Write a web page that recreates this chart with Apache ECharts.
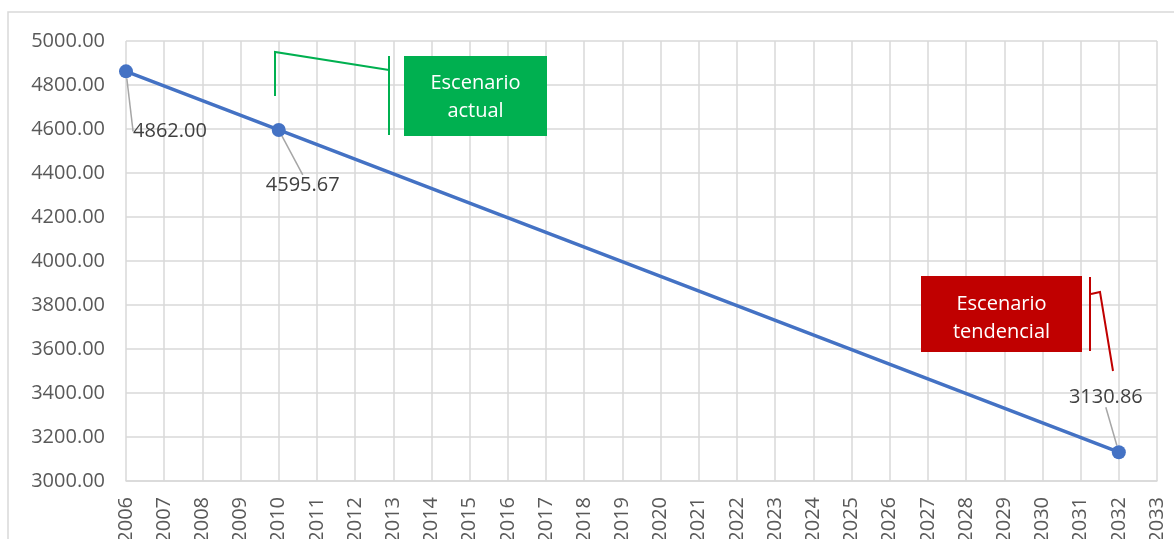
<!DOCTYPE html>
<html>
<head>
<meta charset="utf-8">
<script src="https://cdn.jsdelivr.net/npm/echarts@6/dist/echarts.min.js"></script>
<style>
  html, body { margin: 0; padding: 0; background: #fff; }
  #chart { width: 1174px; height: 539px; }
</style>
</head>
<body>
<div id="chart"></div>
<script>
// categories on the x axis
var years = [];
for (var y = 2006; y <= 2033; y++) years.push(String(y));

// the three known points
var pointYears = ["2006", "2010", "2032"];
var pointValues = [4862.0, 4595.67, 3130.86];
// where each value label sits relative to its point
var labelShift = [[44, 60], [24, 55], [-13, -55]];

var yTicks = { min: 3000, max: 5000, step: 200 };

var seriesData = years.map(function (yr) {
  var i = pointYears.indexOf(yr);
  if (i < 0) return null;
  return {
    value: pointValues[i],
    label: { show: true },
    labelLine: { show: true }
  };
});

var font = "'Open Sans', sans-serif";

var chart = echarts.init(document.getElementById("chart"));
chart.setOption({
  backgroundColor: "#fff",
  animation: false,
  grid: { left: 126, right: 17, top: 41, bottom: 58, containLabel: false, outerBoundsMode: "none" },
  xAxis: {
    type: "category",
    data: years,
    boundaryGap: false,
    axisLine: { lineStyle: { color: "#d9d9d9", width: 1.5 } },
    axisTick: { show: false },
    splitLine: { show: true, lineStyle: { color: "#d9d9d9", width: 1.5 } },
    axisLabel: {
      interval: 0,
      rotate: 90,
      margin: 16,
      color: "#595959",
      fontSize: 20,
      fontFamily: font
    }
  },
  yAxis: {
    type: "value",
    min: yTicks.min,
    max: yTicks.max,
    interval: yTicks.step,
    axisLine: { show: false },
    axisTick: { show: false },
    splitLine: { lineStyle: { color: "#d9d9d9", width: 1.5 } },
    axisLabel: {
      color: "#595959",
      fontSize: 20,
      fontFamily: font,
      margin: 21,
      formatter: function (v) { return v.toFixed(2); }
    }
  },
  series: [
    {
      type: "line",
      data: seriesData,
      connectNulls: true,
      symbol: "circle",
      symbolSize: 14,
      lineStyle: { color: "#4472c4", width: 3.5 },
      itemStyle: { color: "#4472c4" },
      label: {
        position: "inside",
        color: "#404040",
        fontSize: 20,
        fontFamily: font,
        formatter: function (p) { return Number(p.value).toFixed(2); }
      },
      labelLine: { lineStyle: { color: "#a6a6a6", width: 1.5 } },
      labelLayout: function (p) {
        var i = pointYears.indexOf(years[p.dataIndex]);
        if (i < 0) return {};
        return { dx: labelShift[i][0], dy: labelShift[i][1] };
      }
    }
  ],
  graphic: [
    // chart border
    { type: "rect", z: 50, shape: { x: 8, y: 12, width: 1180, height: 560 }, style: { fill: null, stroke: "#d9d9d9", lineWidth: 1.5 }, silent: true },
    // green callout
    { type: "polyline", z: 50, shape: { points: [[275, 96], [275, 52], [389, 70]] }, style: { stroke: "#00b050", lineWidth: 2, fill: null } },
    { type: "line", z: 50, shape: { x1: 389, y1: 56, x2: 389, y2: 135 }, style: { stroke: "#00b050", lineWidth: 2 } },
    { type: "rect", z: 50, shape: { x: 404, y: 56, width: 143, height: 80 }, style: { fill: "#00b050" } },
    { type: "text", z: 51, x: 475.5, y: 97, style: { text: "Escenario\nactual", fill: "#fff", fontSize: 20, fontFamily: font, align: "center", verticalAlign: "middle", lineHeight: 28 } },
    // red callout
    { type: "rect", z: 50, shape: { x: 921, y: 276, width: 161, height: 76 }, style: { fill: "#c00000" } },
    { type: "text", z: 51, x: 1001.5, y: 318, style: { text: "Escenario\ntendencial", fill: "#fff", fontSize: 20, fontFamily: font, align: "center", verticalAlign: "middle", lineHeight: 28 } },
    { type: "line", z: 50, shape: { x1: 1090, y1: 277, x2: 1090, y2: 351 }, style: { stroke: "#c00000", lineWidth: 2 } },
    { type: "polyline", z: 50, shape: { points: [[1091, 294], [1100, 292], [1113, 371]] }, style: { stroke: "#c00000", lineWidth: 2, fill: null } }
  ]
});
</script>
</body>
</html>
